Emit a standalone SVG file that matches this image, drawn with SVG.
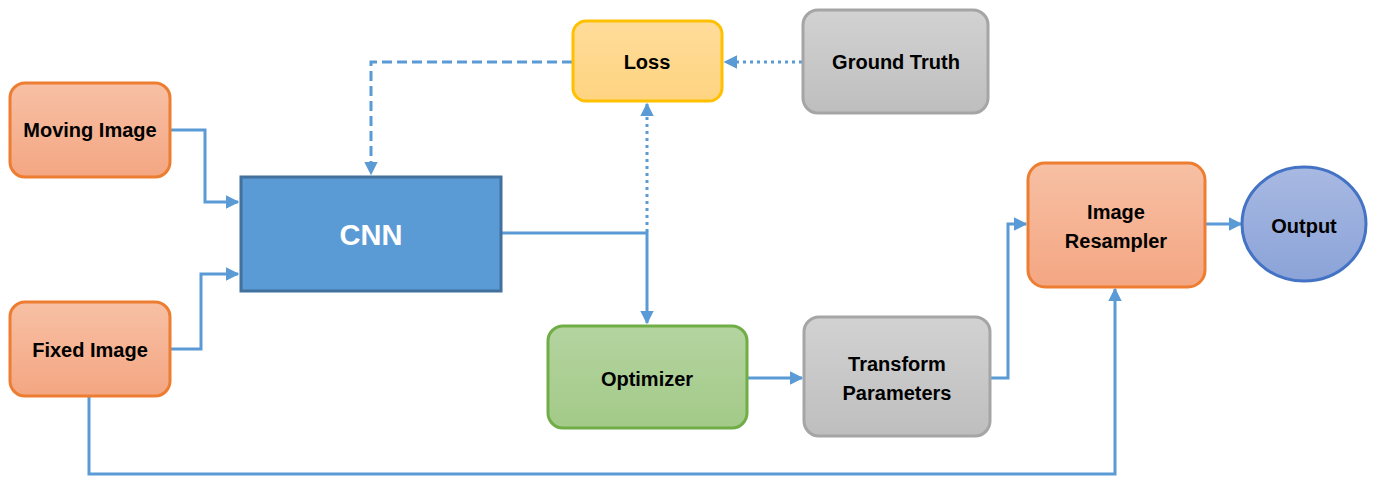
<svg xmlns="http://www.w3.org/2000/svg" width="1375" height="477" viewBox="0 0 1375 477">
<style>
.t{font-family:"Liberation Sans",Arial,sans-serif;font-weight:bold;font-size:20px;fill:#000;text-anchor:middle;dominant-baseline:central}
.c{fill:none;stroke:#5B9BD5;stroke-width:3}
</style>
<defs>
<linearGradient id="gO" x1="0" y1="0" x2="0" y2="1"><stop offset="0" stop-color="#F7C0A4"/><stop offset="1" stop-color="#F4A682"/></linearGradient>
<linearGradient id="gY" x1="0" y1="0" x2="0" y2="1"><stop offset="0" stop-color="#FFDC9A"/><stop offset="1" stop-color="#FED480"/></linearGradient>
<linearGradient id="gG" x1="0" y1="0" x2="0" y2="1"><stop offset="0" stop-color="#D2D2D2"/><stop offset="1" stop-color="#BEBEBE"/></linearGradient>
<linearGradient id="gN" x1="0" y1="0" x2="0" y2="1"><stop offset="0" stop-color="#B4D4A0"/><stop offset="1" stop-color="#A3CA88"/></linearGradient>
<linearGradient id="gB" x1="0" y1="0" x2="0" y2="1"><stop offset="0" stop-color="#A8B9E2"/><stop offset="1" stop-color="#8BA3D8"/></linearGradient>
<marker id="ah" viewBox="0 0 10 10" refX="9" refY="5" markerWidth="4.5" markerHeight="4.5" orient="auto" markerUnits="strokeWidth"><path d="M0,0 L10,5 L0,10 z" fill="#5B9BD5"/></marker>
</defs>
<g id="connectors">
<path class="c" d="M171,130 H205 V202 H238" marker-end="url(#ah)"/>
<path class="c" d="M171,349 H201 V274 H238" marker-end="url(#ah)"/>
<path class="c" d="M502,233 H647 V323" marker-end="url(#ah)"/>
<path class="c" d="M647,232 V104" stroke-dasharray="3,4" marker-end="url(#ah)"/>
<path class="c" d="M802,62 H725" stroke-dasharray="3,4" marker-end="url(#ah)"/>
<path class="c" d="M572,62 H371 V174" stroke-dasharray="10,5" marker-end="url(#ah)"/>
<path class="c" d="M748,378 H802" marker-end="url(#ah)"/>
<path class="c" d="M991,378 H1008 V224 H1026" marker-end="url(#ah)"/>
<path class="c" d="M1206,224 H1241" marker-end="url(#ah)"/>
<path class="c" d="M89,396 V474 H1115 V289" marker-end="url(#ah)"/>
</g>
<g id="moving">
<rect x="10" y="83" width="160" height="94" rx="15" fill="url(#gO)" stroke="#ED7D31" stroke-width="3"/>
<text class="t" x="90" y="130">Moving Image</text>
</g>
<g id="fixed">
<rect x="10" y="302" width="160" height="94" rx="15" fill="url(#gO)" stroke="#ED7D31" stroke-width="3"/>
<text class="t" x="90" y="350">Fixed Image</text>
</g>
<g id="cnn">
<rect x="241" y="177" width="260" height="114" fill="#5B9BD5" stroke="#41719C" stroke-width="3"/>
<text class="t" x="371" y="235" style="font-size:29px;fill:#fff">CNN</text>
</g>
<g id="loss">
<rect x="573" y="21" width="149" height="80" rx="13" fill="url(#gY)" stroke="#FFC000" stroke-width="3"/>
<text class="t" x="647" y="62">Loss</text>
</g>
<g id="groundtruth">
<rect x="803" y="10" width="185" height="103" rx="15" fill="url(#gG)" stroke="#A5A5A5" stroke-width="3"/>
<text class="t" x="896" y="62">Ground Truth</text>
</g>
<g id="optimizer">
<rect x="548" y="326" width="199" height="102" rx="15" fill="url(#gN)" stroke="#70AD47" stroke-width="3"/>
<text class="t" x="647" y="379">Optimizer</text>
</g>
<g id="transform">
<rect x="804" y="317" width="186" height="119" rx="15" fill="url(#gG)" stroke="#A5A5A5" stroke-width="3"/>
<text class="t" x="897" y="364">Transform</text>
<text class="t" x="897" y="393">Parameters</text>
</g>
<g id="resampler">
<rect x="1028" y="163" width="177" height="124" rx="17" fill="url(#gO)" stroke="#ED7D31" stroke-width="3"/>
<text class="t" x="1116" y="212">Image</text>
<text class="t" x="1116" y="241">Resampler</text>
</g>
<g id="output">
<ellipse cx="1304" cy="224" rx="62" ry="57" fill="url(#gB)" stroke="#4472C4" stroke-width="3"/>
<text class="t" x="1304" y="226">Output</text>
</g>
</svg>
